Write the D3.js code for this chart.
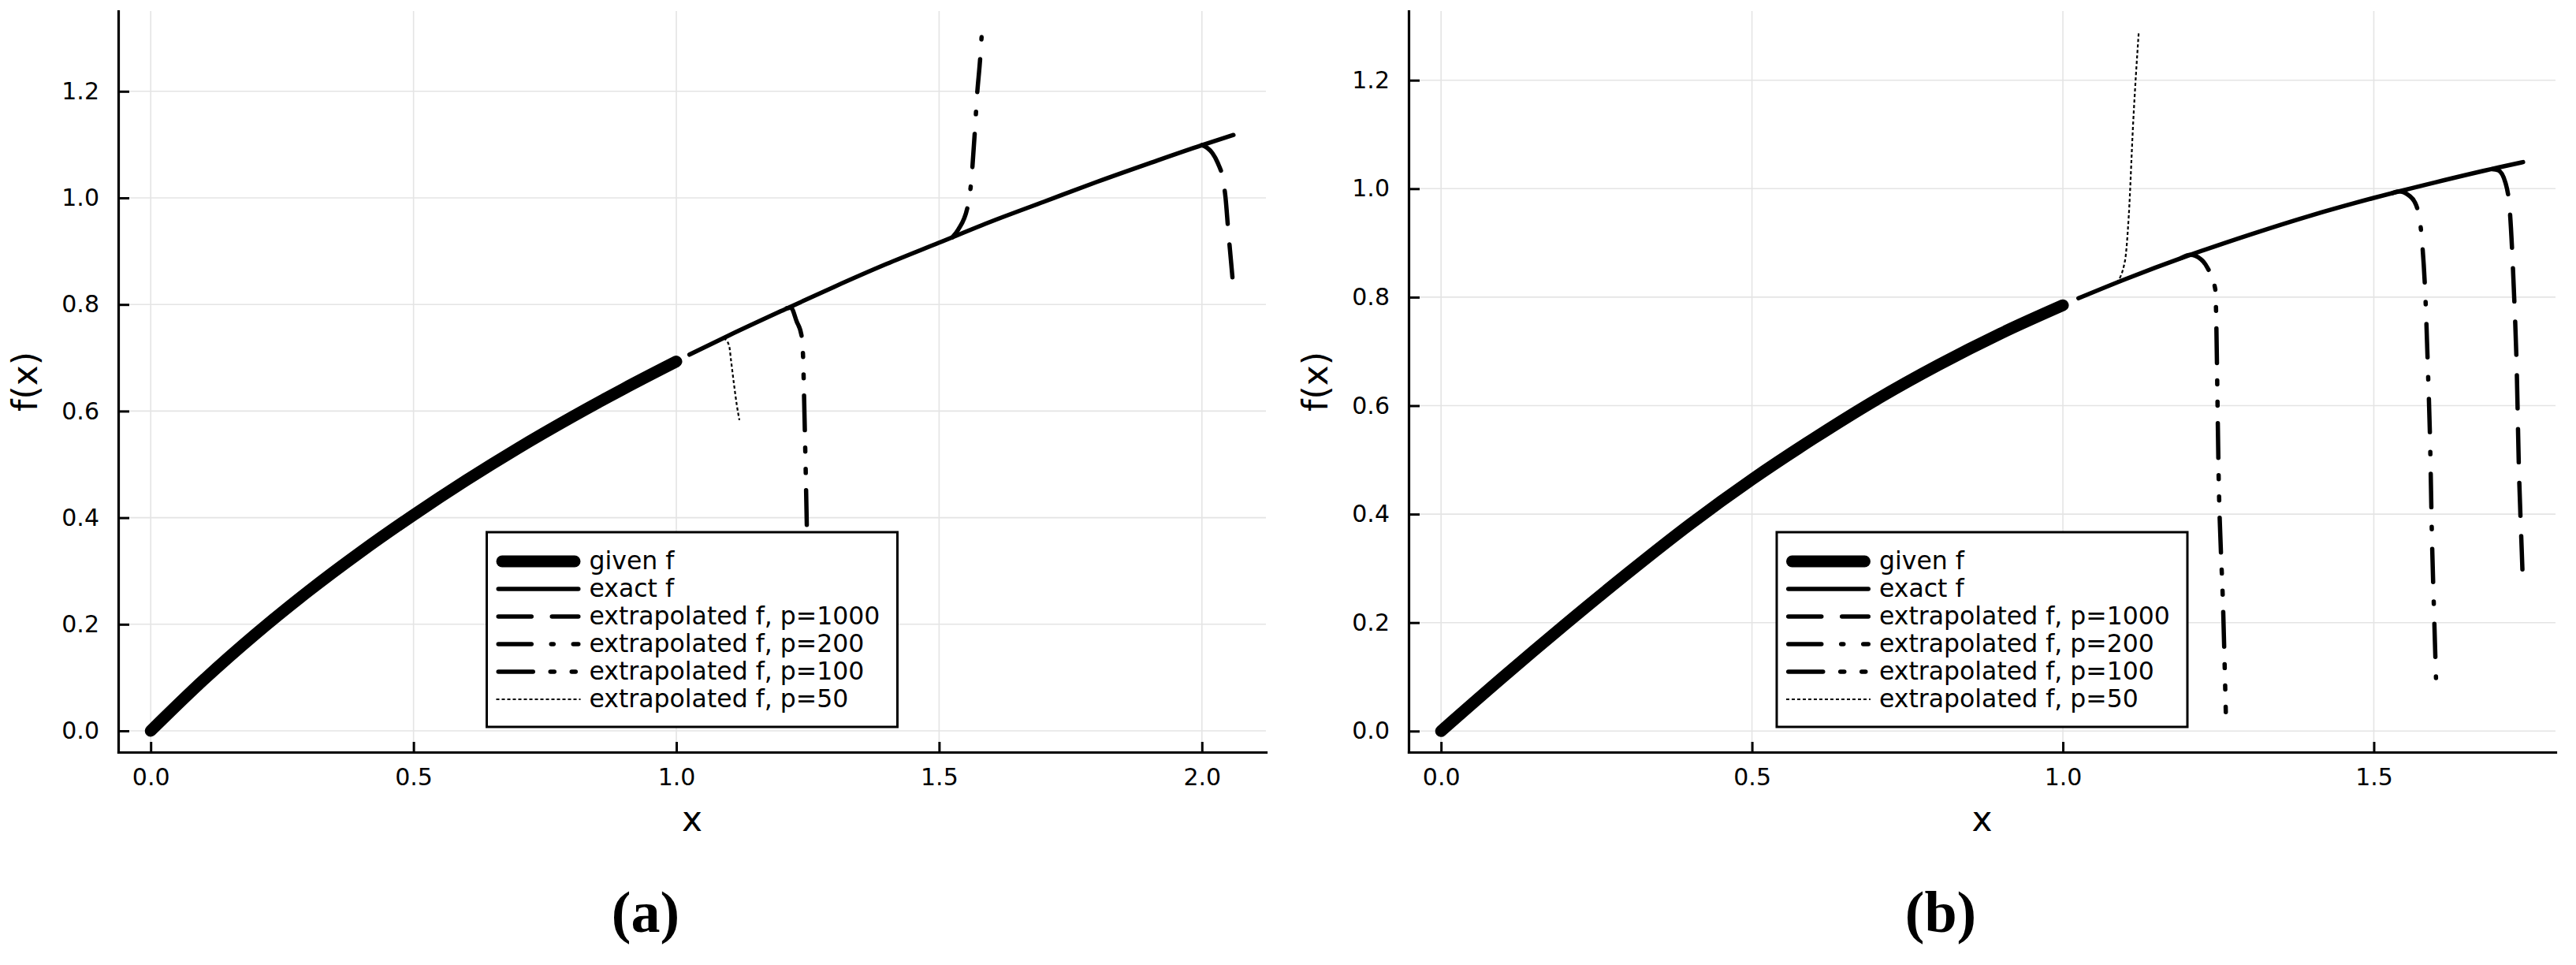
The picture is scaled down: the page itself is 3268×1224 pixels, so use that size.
<!DOCTYPE html>
<html>
<head>
<meta charset="utf-8">
<script src="https://cdn.jsdelivr.net/npm/d3@7"></script>
<style>
  body { margin: 0; background: #fff; }
  text { font-family: "DejaVu Sans", sans-serif; fill: #000; }
  .caption { font-family: "Liberation Serif", "Times New Roman", serif; font-weight: bold; }
</style>
</head>
<body>
<div id="chart"></div>
<script>
// tick values
const xTicksA = [0, 0.5, 1.0, 1.5, 2.0];
const xTicksB = [0, 0.5, 1.0, 1.5];
const yTicks = [0, 0.2, 0.4, 0.6, 0.8, 1.0, 1.2];

const legendLabels = [
  "given f",
  "exact f",
  "extrapolated f, p=1000",
  "extrapolated f, p=200",
  "extrapolated f, p=100",
  "extrapolated f, p=50"
];

// panel (a), points as [x, f(x)]
const givenA = [[0, 0], [0.1, 0.095], [0.2, 0.182], [0.3, 0.262], [0.4, 0.336], [0.5, 0.405],
  [0.6, 0.470], [0.7, 0.531], [0.8, 0.588], [0.9, 0.642], [1.0, 0.693]];
const exactA = [[1.025, 0.706], [1.1, 0.742], [1.2, 0.788], [1.3, 0.833], [1.4, 0.876], [1.5, 0.916],
  [1.6, 0.956], [1.7, 0.993], [1.8, 1.030], [1.9, 1.065], [2.0, 1.099], [2.06, 1.118]];
const p1000A = [[2.0, 1.099], [2.01, 1.094], [2.02, 1.084], [2.03, 1.066], [2.04, 1.035],
  [2.045, 1.0], [2.05, 0.94], [2.055, 0.885], [2.06, 0.83]];
const p200A = [[1.525, 0.926], [1.536, 0.940], [1.555, 0.987], [1.560, 1.02],
  [1.568, 1.125], [1.572, 1.19], [1.578, 1.26], [1.581, 1.305]];
const p100A = [[1.21, 0.793], [1.218, 0.794], [1.229, 0.768], [1.238, 0.743], [1.241, 0.706],
  [1.244, 0.587], [1.2485, 0.374]];
const p50A = [[1.08, 0.732], [1.089, 0.736], [1.095, 0.733], [1.101, 0.720], [1.104, 0.696],
  [1.109, 0.656], [1.115, 0.612], [1.12, 0.583]];

// panel (b)
const givenB = [[0, 0], [0.1, 0.100], [0.2, 0.197], [0.3, 0.291], [0.4, 0.381], [0.5, 0.464],
  [0.6, 0.540], [0.7, 0.611], [0.8, 0.675], [0.9, 0.733], [1.0, 0.785]];
const exactB = [[1.025, 0.798], [1.1, 0.833], [1.2, 0.876], [1.3, 0.915], [1.4, 0.951], [1.5, 0.983],
  [1.6, 1.012], [1.7, 1.039], [1.74, 1.049]];
const p1000B = [[1.69, 1.036], [1.70, 1.034], [1.712, 1.010], [1.719, 0.955], [1.725, 0.82],
  [1.730, 0.66], [1.733, 0.50], [1.738, 0.33], [1.740, 0.265]];
const p200B = [[1.53, 0.992], [1.541, 0.995], [1.556, 0.988], [1.568, 0.970], [1.577, 0.91], [1.583, 0.80],
  [1.587, 0.668], [1.5905, 0.534], [1.5935, 0.357], [1.5968, 0.222], [1.600, 0.098]];
const p100B = [[1.19, 0.872], [1.205, 0.878], [1.222, 0.870], [1.232, 0.855], [1.245, 0.815],
  [1.251, 0.441], [1.258, 0.214], [1.262, 0.035]];
const p50B = [[1.07, 0.819], [1.086, 0.827], [1.0997, 0.866], [1.106, 0.951], [1.113, 1.121], [1.122, 1.289]];

const width = 3268;
const height = 1224;

// line styles: given, exact, p=1000, p=200, p=100, p=50
const styles = [
  { w: 15, dash: null, cap: "round" },
  { w: 5.5, dash: null, cap: "round" },
  { w: 5.5, dash: "42,26", cap: "round" },
  { w: 5.5, dash: "42,25,3,25", cap: "round" },
  { w: 5.5, dash: "44,22,5,22,5,22", cap: "round" },
  { w: 2.2, dash: "4,3", cap: "butt" }
];

const panels = [
  {
    left: 150, right: 1606,
    xDomain: [-0.0618, 2.1218], yDomain: [-0.0399, 1.3506],
    xTicks: xTicksA,
    series: [givenA, exactA, p1000A, p200A, p100A, p50A],
    caption: "(a)", captionX: 819
  },
  {
    left: 1787, right: 3242,
    xDomain: [-0.0522, 1.7922], yDomain: [-0.0388, 1.3275],
    xTicks: xTicksB,
    series: [givenB, exactB, p1000B, p200B, p100B, p50B],
    caption: "(b)", captionX: 2462
  }
];

const plotTop = 14;
const plotBottom = 954;

const svg = d3.select("#chart")
  .append("svg")
  .attr("width", width)
  .attr("height", height);

panels.forEach(function(p) {
  const x = d3.scaleLinear().domain(p.xDomain).range([p.left, p.right]);
  const y = d3.scaleLinear().domain(p.yDomain).range([plotBottom, plotTop]);
  const g = svg.append("g");

  // Grid
  g.selectAll(".gx")
    .data(p.xTicks)
    .enter()
    .append("line")
    .attr("x1", d => x(d))
    .attr("x2", d => x(d))
    .attr("y1", plotTop)
    .attr("y2", plotBottom)
    .attr("stroke", "#e4e4e4")
    .attr("stroke-width", 1.6);

  g.selectAll(".gy")
    .data(yTicks)
    .enter()
    .append("line")
    .attr("x1", p.left)
    .attr("x2", p.right)
    .attr("y1", d => y(d))
    .attr("y2", d => y(d))
    .attr("stroke", "#e4e4e4")
    .attr("stroke-width", 1.6);

  // Curves
  const line = d3.line()
    .x(d => x(d[0]))
    .y(d => y(d[1]))
    .curve(d3.curveMonotoneX);

  p.series.forEach(function(s, i) {
    const st = styles[i];
    g.append("path")
      .datum(s)
      .attr("fill", "none")
      .attr("stroke", "#000")
      .attr("stroke-width", st.w)
      .attr("stroke-linecap", st.cap)
      .attr("stroke-linejoin", "round")
      .attr("stroke-dasharray", st.dash)
      .attr("d", line);
  });

  // Axes
  const xAxis = g.append("g")
    .attr("transform", `translate(0, ${plotBottom})`)
    .call(d3.axisBottom(x)
      .tickValues(p.xTicks)
      .tickFormat(d3.format(".1f"))
      .tickSizeInner(-13)
      .tickSizeOuter(0)
      .tickPadding(21));

  const yAxis = g.append("g")
    .attr("transform", `translate(${p.left}, 0)`)
    .call(d3.axisLeft(y)
      .tickValues(yTicks)
      .tickFormat(d3.format(".1f"))
      .tickSizeInner(-14)
      .tickSizeOuter(0)
      .tickPadding(24));

  [xAxis, yAxis].forEach(function(a) {
    a.select(".domain").attr("stroke-width", 3.2).attr("stroke-linecap", "square");
    a.selectAll(".tick line").attr("stroke-width", 3);
    a.selectAll(".tick text")
      .style("font-family", "DejaVu Sans")
      .style("font-size", "30px");
  });

  // Axis labels
  svg.append("text")
    .attr("x", (p.left + p.right) / 2)
    .attr("y", 1054)
    .attr("text-anchor", "middle")
    .style("font-size", "44px")
    .text("x");

  svg.append("text")
    .attr("transform", `translate(${p.left - 103}, ${(plotTop + plotBottom) / 2}) rotate(-90)`)
    .attr("text-anchor", "middle")
    .style("font-size", "44px")
    .text("f(x)");

  // Legend
  const boxW = 521;
  const boxH = 247;
  const boxX = (p.left + p.right) / 2 - boxW / 2;
  const boxY = 675;
  const leg = g.append("g").attr("transform", `translate(${boxX}, ${boxY})`);

  leg.append("rect")
    .attr("width", boxW)
    .attr("height", boxH)
    .attr("fill", "#fff")
    .attr("stroke", "#000")
    .attr("stroke-width", 3);

  legendLabels.forEach(function(label, i) {
    const st = styles[i];
    const ry = 37 + i * 35;
    const inset = st.cap === "round" ? st.w / 2 : 0;
    leg.append("line")
      .attr("x1", 12 + inset)
      .attr("x2", 119 - inset)
      .attr("y1", ry)
      .attr("y2", ry)
      .attr("stroke", "#000")
      .attr("stroke-width", st.w)
      .attr("stroke-linecap", st.cap)
      .attr("stroke-dasharray", st.dash);

    leg.append("text")
      .attr("x", 130)
      .attr("y", ry + 10)
      .style("font-size", "31.5px")
      .text(label);
  });

  // Caption
  svg.append("text")
    .attr("class", "caption")
    .attr("x", p.captionX)
    .attr("y", 1182)
    .attr("text-anchor", "middle")
    .style("font-size", "74px")
    .text(p.caption);
});
</script>
</body>
</html>
